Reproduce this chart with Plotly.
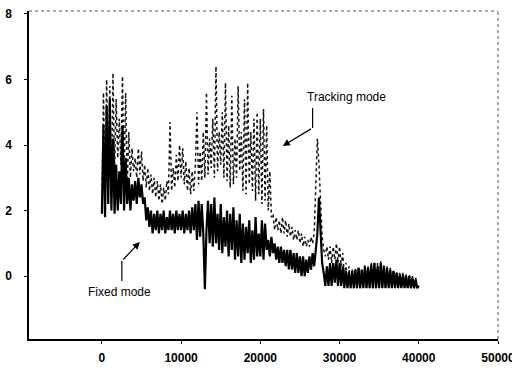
import plotly.graph_objects as go

x_step = 200
x_values = [i * x_step for i in range(201)]

tracking = [
    2.0, 5.6, 2.6, 6.0, 3.0,   5.8, 2.4, 6.2, 3.2, 5.4,   3.6, 4.8, 3.4, 6.1, 3.0,
    5.6, 2.8, 4.4, 3.0, 3.9,   3.2, 3.6, 3.0, 3.9, 3.1,   3.8, 2.9, 3.4, 2.7, 3.3,
    2.6, 3.1, 2.5, 3.0, 2.4,   2.9, 2.3, 2.8, 2.2, 2.7,   2.3, 2.9, 2.5, 4.7, 2.6,
    3.3, 2.7, 3.7, 2.9, 4.0,   3.0, 3.9, 2.8, 3.5, 2.6,   3.3, 2.5, 3.2, 2.6, 3.4,
    5.0, 2.8, 3.8, 2.9, 4.4,   3.0, 5.6, 3.1, 4.2, 3.3,   4.8, 3.0, 6.4, 3.2, 4.4,
    3.4, 5.0, 3.0, 5.9, 2.9,   4.6, 2.7, 5.5, 2.8, 4.2,   3.0, 5.8, 3.2, 4.4, 2.6,
    5.4, 2.5, 5.9, 2.8, 4.4,   2.6, 4.8, 2.3, 5.0, 2.5,   4.8, 2.2, 5.1, 2.3, 4.6,
    2.0, 3.2, 1.8, 1.9, 1.4,   1.8, 1.4, 1.7, 1.3, 1.8,   1.3, 1.7, 1.2, 1.6, 1.2,
    1.5, 1.1, 1.4, 1.1, 1.4,   1.0, 1.3, 0.9, 1.2, 0.9,   1.1, 0.9, 1.2, 1.0, 1.3,
    2.6, 4.2, 3.4, 2.0, 1.2,   0.8, 0.6, 0.9, 0.5, 0.9,   0.4, 0.9, 0.5, 1.0, 0.4,
    0.9, 0.3, 0.7, 0.0, 0.4,   -0.3, 0.3, -0.37, 0.2, -0.37,   0.25, -0.37, 0.3, -0.37, 0.2,
    -0.37, 0.35, -0.37, 0.3, -0.37,   0.4, -0.37, 0.45, -0.37, 0.4,   -0.37, 0.45, -0.37, 0.35, -0.37,
    0.3, -0.37, 0.25, -0.37, 0.2,   -0.37, 0.15, -0.37, 0.1, -0.37,   0.1, -0.37, 0.05, -0.37, 0.05,
    -0.37, 0.0, -0.37, -0.05, -0.37,   -0.3,
]

fixed = [
    1.9, 4.6, 1.8, 5.2, 2.2,   5.4, 2.0, 4.2, 1.9, 3.4,   2.0, 3.2, 2.2, 4.6, 2.0,
    3.6, 2.2, 3.0, 2.0, 2.8,   2.3, 2.9, 2.2, 3.0, 2.4,   2.8, 2.2, 2.4, 1.7, 2.1,
    1.5, 2.0, 1.3, 1.9, 1.4,   2.0, 1.3, 1.9, 1.4, 2.0,   1.3, 1.8, 1.4, 2.0, 1.4,
    1.9, 1.3, 2.0, 1.4, 1.9,   1.4, 2.0, 1.3, 1.9, 1.4,   2.0, 1.3, 2.1, 1.4, 2.2,
    1.1, 2.3, 1.2, 2.2, 1.3,   -0.4, 1.4, 2.3, 1.0, 2.2,   0.9, 2.4, 1.0, 1.9, 0.8,
    2.2, 0.7, 1.8, 0.9, 2.0,   0.6, 1.9, 0.8, 2.1, 0.5,   1.7, 0.6, 1.9, 0.4, 1.6,
    0.5, 1.5, 0.7, 1.7, 0.4,   1.4, 0.5, 1.8, 0.6, 1.3,   0.6, 1.7, 0.5, 1.6, 0.8,
    1.1, 0.6, 1.2, 0.7, 1.0,   0.5, 0.9, 0.4, 0.9, 0.4,   0.8, 0.3, 0.8, 0.2, 0.8,
    0.2, 0.7, 0.1, 0.7, 0.1,   0.6, 0.0, 0.6, 0.0, 0.5,   0.1, 0.6, 0.2, 0.7, 0.3,
    0.9, 1.3, 2.4, 1.4, 0.4,   0.1, -0.3, 0.3, -0.3, 0.4,   -0.3, 0.4, -0.2, 0.5, -0.3,
    0.4, -0.3, 0.3, -0.37, 0.15,   -0.37, 0.1, -0.37, 0.15, -0.37,   0.2, -0.37, 0.25, -0.37, 0.2,
    -0.37, 0.3, -0.37, 0.25, -0.37,   0.35, -0.37, 0.4, -0.37, 0.3,   -0.37, 0.4, -0.37, 0.3, -0.37,
    0.25, -0.37, 0.2, -0.37, 0.15,   -0.37, 0.1, -0.37, 0.05, -0.37,   0.05, -0.37, 0.0, -0.37, 0.0,
    -0.37, -0.05, -0.37, -0.1, -0.37,   -0.3,
]

x_ticks = [0, 10000, 20000, 30000, 40000, 50000]
y_ticks = [0, 2, 4, 6, 8]

font_family = "Liberation Sans, Arial, sans-serif"

fig = go.Figure()
fig.add_trace(go.Scatter(x=x_values, y=tracking, mode="lines", name="Tracking mode",
                         line=dict(color="#111111", width=1.5, dash="dot")))
fig.add_trace(go.Scatter(x=x_values, y=fixed, mode="lines", name="Fixed mode",
                         line=dict(color="black", width=2.2)))

# Annotation: Tracking mode
fig.add_annotation(x=30900, y=5.47, text="Tracking mode", showarrow=False,
                   font=dict(size=12, color="black", family=font_family))
fig.add_shape(type="line", x0=26600, y0=5.13, x1=26600, y1=4.52,
              line=dict(color="black", width=1.2))
fig.add_annotation(x=22825, y=3.97, ax=26600, ay=4.52, axref="x", ayref="y",
                   text="", showarrow=True, arrowhead=2, arrowsize=1.2,
                   arrowwidth=1.2, arrowcolor="black")

# Annotation: Fixed mode
fig.add_annotation(x=2270, y=-0.49, text="Fixed mode", showarrow=False,
                   font=dict(size=12, color="black", family=font_family))
fig.add_shape(type="line", x0=2520, y0=-0.15, x1=2520, y1=0.46,
              line=dict(color="black", width=1.2))
fig.add_annotation(x=4790, y=1.04, ax=2520, ay=0.46, axref="x", ayref="y",
                   text="", showarrow=True, arrowhead=2, arrowsize=1.2,
                   arrowwidth=1.2, arrowcolor="black")

# Dotted top and right frame
fig.add_shape(type="line", xref="paper", yref="paper", x0=0, y0=1, x1=1, y1=1,
              line=dict(color="#555555", width=1, dash="dot"))
fig.add_shape(type="line", xref="paper", yref="paper", x0=1, y0=0, x1=1, y1=1,
              line=dict(color="#555555", width=1, dash="dot"))

fig.update_layout(
    width=512, height=368,
    margin=dict(l=29, r=14, t=11, b=29, autoexpand=False),
    paper_bgcolor="white", plot_bgcolor="white",
    showlegend=False,
    font=dict(family=font_family, size=12, color="black"),
)
tick_font = dict(family=font_family, size=12, color="black", weight="bold")
fig.update_xaxes(range=[-9200, 50000], tickvals=x_ticks, ticktext=[str(v) for v in x_ticks],
                 showgrid=False, zeroline=False, showline=True, linecolor="black", linewidth=1.5,
                 ticks="outside", ticklen=3, tickcolor="black", ticklabelstandoff=4,
                 automargin=False, ticklabeloverflow="allow", tickfont=tick_font)
fig.update_yaxes(range=[-1.92, 8.09], tickvals=y_ticks, ticktext=[str(v) for v in y_ticks],
                 showgrid=False, zeroline=False, showline=True, linecolor="black", linewidth=1.5,
                 ticks="outside", ticklen=3, tickcolor="black", ticklabelstandoff=10,
                 automargin=False, tickfont=tick_font)

fig.write_html("out.html", config={"displayModeBar": False},
               post_script="document.body.style.margin='0px';document.body.style.overflow='hidden';")
